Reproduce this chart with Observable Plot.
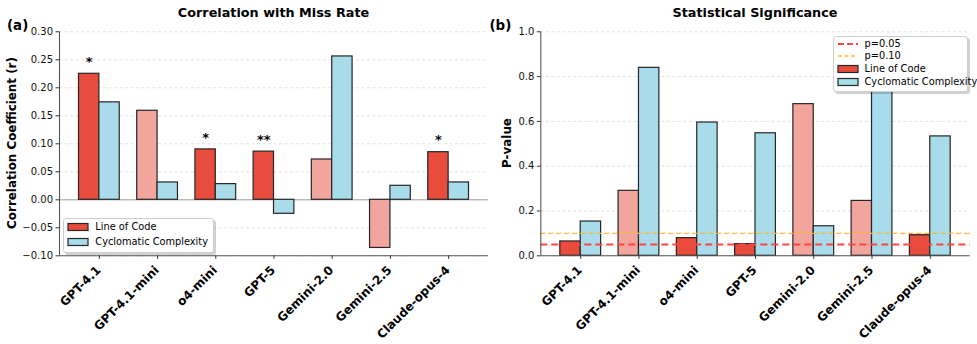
<!DOCTYPE html>
<html><head><meta charset="utf-8">
<script src="https://cdn.jsdelivr.net/npm/d3@7"></script>
<script src="https://cdn.jsdelivr.net/npm/@observablehq/plot@0.6"></script>
<style>
html,body{margin:0;padding:0;background:#fff;}
#wrap{position:relative;width:977px;height:344px;overflow:hidden;font-family:"DejaVu Sans",sans-serif;color:#000;}
.ctr{position:absolute;transform:translate(-50%,-50%);white-space:nowrap;line-height:1;}
.title{font-weight:bold;font-size:12.8px;}
.letter{position:absolute;font-weight:bold;font-size:13.4px;line-height:1;transform:translateY(-50%);}
.ylab{position:absolute;font-weight:bold;font-size:11.9px;white-space:nowrap;line-height:1;transform:translate(-50%,-50%) rotate(-90deg);}
.legend{position:absolute;background:#fff;border:1px solid #cfcfcf;border-radius:3px;box-shadow:2px 2px 0 rgba(0,0,0,0.18);font-size:9.8px;}
.legend .row{position:absolute;left:0;white-space:nowrap;line-height:1;transform:translateY(-50%);}
.legend svg{position:absolute;}
</style></head><body><div id="wrap"></div>
<script>
// ---- data ----
const models = ["GPT-4.1","GPT-4.1-mini","o4-mini","GPT-5","Gemini-2.0","Gemini-2.5","Claude-opus-4"];
const seriesNames = ["Line of Code","Cyclomatic Complexity"];
const locR = [0.225, 0.159, 0.090, 0.086, 0.072, -0.086, 0.085];
const ccR  = [0.174, 0.031, 0.028, -0.025, 0.256, 0.025, 0.031];
const locP = [0.064, 0.290, 0.079, 0.052, 0.677, 0.245, 0.092];
const ccP  = [0.153, 0.839, 0.595, 0.547, 0.132, 0.800, 0.533];
const locStars = ["*", "", "*", "**", "", "", "*"];
const locSignificant = [true, false, true, true, false, false, true];
const rTicks = [-0.10, -0.05, 0.00, 0.05, 0.10, 0.15, 0.20, 0.25, 0.30];
const pTicks = [0.0, 0.2, 0.4, 0.6, 0.8, 1.0];
const thresholds = [0.05, 0.10];
const thresholdLabels = ["p=0.05", "p=0.10"];

// ---- style ----
const RED = "#e74c3c", RED_LIGHT = "#f2a59c", BLUE = "#a8dcea", EDGE = "#262626";
const THR_COLORS = ["#ff4444", "#ffb833"];
const BW = 0.35;
const xDomain = [-0.685, 6.685];
const FONT = "DejaVu Sans";

function rowsFor(loc, cc){
  const rows = [];
  models.forEach((m, i) => {
    rows.push({i, model:m, s:0, x1:i-BW, x2:i, base:0, v:loc[i], fill: locSignificant[i] ? RED : RED_LIGHT});
    rows.push({i, model:m, s:1, x1:i, x2:i+BW, base:0, v:cc[i], fill: BLUE});
  });
  return rows;
}

function panel({loc, cc, yDomain, ticks, fmt, width, ml, mr, extra}){
  const idx = models.map((m,i)=>i);
  return Plot.plot({
    width, height: 344,
    marginLeft: ml, marginRight: mr, marginTop: 31.3, marginBottom: 88.7,
    style: {fontFamily: FONT, fontSize: "10px", color: "#111", background: "transparent", overflow: "visible"},
    x: {type: "linear", domain: xDomain},
    y: {type: "linear", domain: yDomain},
    marks: [
      Plot.ruleY(ticks, {stroke: "#d9d9d9", strokeWidth: 0.8, strokeDasharray: "3,2.5"}),
      ...(extra.before || []),
      Plot.rect(rowsFor(loc, cc), {x1: "x1", x2: "x2", y1: "base", y2: "v", fill: d => d.fill, stroke: EDGE, strokeWidth: 1.2}),
      ...(extra.after || []),
      Plot.ruleX([xDomain[0]], {stroke: "#555", strokeWidth: 1.1}),
      Plot.ruleY([yDomain[0]], {stroke: "#555", strokeWidth: 1.1}),
      Plot.axisY({ticks, tickFormat: fmt, tickSize: 3.5, tickPadding: 3, label: null, fontSize: 10, stroke: "#333"}),
      Plot.axisX({ticks: idx, tickFormat: () => "", tickSize: 3.5, label: null, stroke: "#333"}),
      Plot.text(idx, {x: d => d, text: d => models[d], frameAnchor: "bottom", rotate: -45, textAnchor: "end", lineAnchor: "top", dy: 9, dx: -4, fontSize: 12, fontWeight: "bold", fill: "#000"})
    ]
  });
}

const wrap = document.getElementById("wrap");

// left panel
const left = panel({
  loc: locR, cc: ccR, yDomain: [-0.10, 0.30], ticks: rTicks, fmt: d3.format(".2f"),
  width: 490, ml: 59, mr: 2,
  extra: {
    before: [Plot.ruleY([0], {stroke: "#a0a0a0", strokeWidth: 1})],
    after: [Plot.text(models.map((m,i)=>i).filter(i => locStars[i]), {x: i => i - BW/2, y: i => locR[i], text: i => locStars[i], dy: -12, lineAnchor: "middle", fontSize: 13, fontWeight: "bold", fill: "#000"})]
  }
});
left.style.position = "absolute"; left.style.left = "0px"; left.style.top = "0px";
wrap.appendChild(left);

// right panel
const right = panel({
  loc: locP, cc: ccP, yDomain: [0, 1.0], ticks: pTicks, fmt: d3.format(".1f"),
  width: 490, ml: 53.3, mr: 7.3,
  extra: {
    after: [
      Plot.ruleY([thresholds[1]], {stroke: THR_COLORS[1], strokeWidth: 1.3, strokeDasharray: "5,3"}),
      Plot.ruleY([thresholds[0]], {stroke: THR_COLORS[0], strokeWidth: 2, strokeDasharray: "7,4"})
    ]
  }
});
right.style.position = "absolute"; right.style.left = "487px"; right.style.top = "0px";
wrap.appendChild(right);

function addText(cls, text, x, y){
  const d = document.createElement("div");
  d.className = cls; d.textContent = text;
  d.style.left = x + "px"; d.style.top = y + "px";
  wrap.appendChild(d); return d;
}
addText("ctr title", "Correlation with Miss Rate", 273.5, 12.5);
addText("ctr title", "Statistical Significance", 755, 12.5);
addText("letter", "(a)", 7, 26);
addText("letter", "(b)", 489.5, 26);
addText("ylab", "Correlation Coefficient (r)", 13, 143.3);
addText("ylab", "P-value", 508, 143.3);

function legend(x, y, w, h, items){
  const L = document.createElement("div");
  L.className = "legend";
  Object.assign(L.style, {left: x+"px", top: y+"px", width: w+"px", height: h+"px"});
  items.forEach(it => {
    const s = document.createElementNS("http://www.w3.org/2000/svg", "svg");
    s.setAttribute("width", 22); s.setAttribute("height", 10);
    s.style.left = "3px"; s.style.top = (it.y - 5) + "px";
    if (it.type === "line") {
      const l = document.createElementNS("http://www.w3.org/2000/svg", "line");
      l.setAttribute("x1", 1); l.setAttribute("x2", 21); l.setAttribute("y1", 5); l.setAttribute("y2", 5);
      l.setAttribute("stroke", it.color); l.setAttribute("stroke-width", it.sw); l.setAttribute("stroke-dasharray", it.dash);
      s.appendChild(l);
    } else {
      const r = document.createElementNS("http://www.w3.org/2000/svg", "rect");
      r.setAttribute("x", 1); r.setAttribute("y", 1.5); r.setAttribute("width", 20); r.setAttribute("height", 7);
      r.setAttribute("fill", it.color); r.setAttribute("stroke", EDGE); r.setAttribute("stroke-width", 1.2);
      s.appendChild(r);
    }
    L.appendChild(s);
    const t = document.createElement("div");
    t.className = "row"; t.textContent = it.label;
    t.style.left = "31px"; t.style.top = it.y + "px";
    L.appendChild(t);
  });
  wrap.appendChild(L);
}
legend(63.3, 218.3, 149, 33, [
  {type: "rect", color: RED, label: seriesNames[0], y: 8},
  {type: "rect", color: BLUE, label: seriesNames[1], y: 23}
]);
legend(832.5, 35.7, 133, 54, [
  {type: "line", color: THR_COLORS[0], sw: 2, dash: "6,3", label: thresholdLabels[0], y: 7.5},
  {type: "line", color: THR_COLORS[1], sw: 1.3, dash: "4,2.5", label: thresholdLabels[1], y: 19.5},
  {type: "rect", color: RED, label: seriesNames[0], y: 32},
  {type: "rect", color: BLUE, label: seriesNames[1], y: 45}
]);
</script>
</body></html>
